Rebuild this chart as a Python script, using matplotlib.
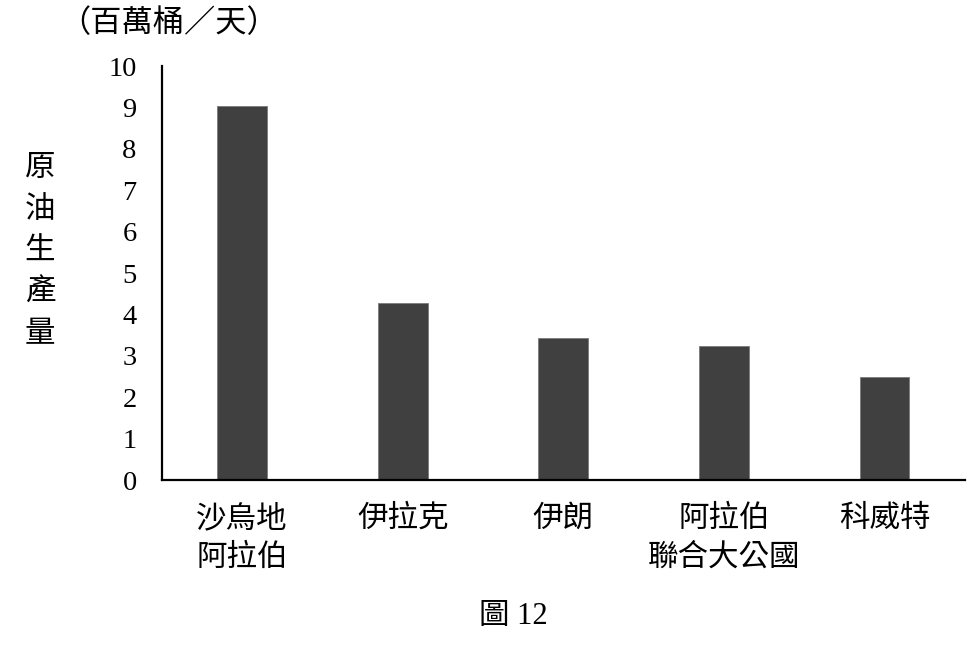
import matplotlib
matplotlib.use('Agg')
import matplotlib.pyplot as plt

plt.rcParams['font.family'] = ['Liberation Serif', 'Noto Sans CJK TC']

countries = ['沙烏地\n阿拉伯', '伊拉克', '伊朗', '阿拉伯\n聯合大公國', '科威特']
production = [9.03, 4.29, 3.44, 3.24, 2.48]
yticks = list(range(0, 11))

fig = plt.figure(figsize=(9.7, 6.55), dpi=100)
ax = fig.add_axes([0.1667, 0.267, 0.828, 0.632])

x = range(len(countries))
ax.bar(x, production, width=0.31, color='#404040', edgecolor='#7a7a7a', linewidth=0.6)

ax.set_xlim(-0.5, 4.5)
ax.set_ylim(0, 10)
ax.set_yticks(yticks)
ax.set_yticklabels([str(t) for t in yticks], fontsize=20.5)
ax.set_xticks(list(x))
ax.set_xticklabels(countries, fontsize=22, linespacing=1.43, va='top')
ax.tick_params(axis='y', length=0, pad=18)
ax.tick_params(axis='x', length=0, pad=18)

for side in ['top', 'right']:
    ax.spines[side].set_visible(False)
for side in ['left', 'bottom']:
    ax.spines[side].set_linewidth(1.6)
    ax.spines[side].set_color('black')

# y軸標題與單位
fig.text(40 / 970, 1 - 252 / 655, '\n'.join('原油生產量'), fontsize=22,
         ha='center', va='center', linespacing=1.57)
fig.text(169 / 970, 1 - 24 / 655, '（百萬桶／天）', fontsize=22.5,
         ha='center', va='center')
fig.text(513 / 970, 1 - 617 / 655, '圖 12', fontsize=22,
         ha='center', va='center')

fig.savefig('out.png', dpi=100)
